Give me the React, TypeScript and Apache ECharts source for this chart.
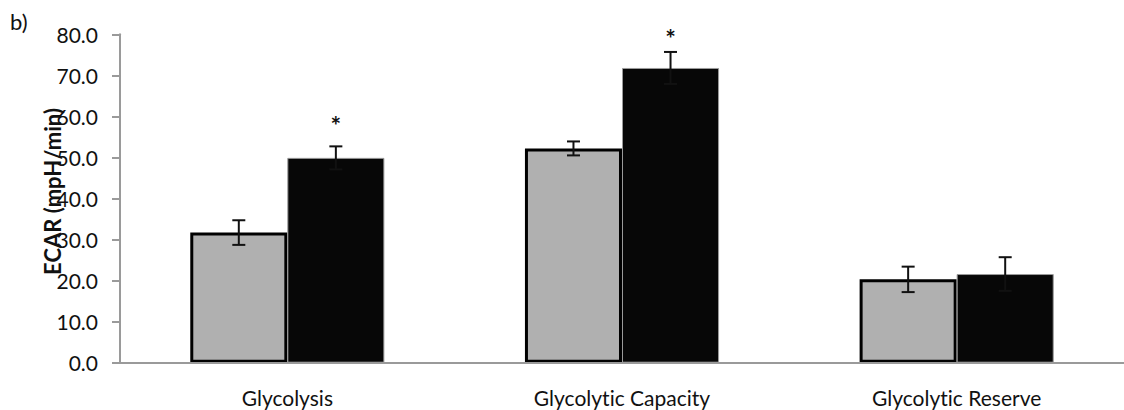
import React, { useEffect, useRef } from "react";
import * as echarts from "echarts";

const categories = ["Glycolysis", "Glycolytic Capacity", "Glycolytic Reserve"];
const controlMeans = [31.7, 52.2, 20.3];
const controlErr = [3.0, 1.7, 3.1];
const treatedMeans = [49.9, 71.8, 21.6];
const treatedErr = [2.8, 3.9, 4.1];
const significance = ["*", "*", ""];
const asteriskLevel = [58.0, 79.0, 0];
const yTicks = { min: 0, max: 80, interval: 10 };

const FONT = "Lato, 'Liberation Sans', sans-serif";
const CAT_GAP = 0.42;

function errorSeries(means: number[], errs: number[], sign: number) {
  return {
    type: "custom",
    z: 5,
    silent: true,
    encode: { x: 0, y: 1 },
    data: means.map((m, i) => [i, m, errs[i]]),
    renderItem: (params: any, api: any) => {
      const cat = api.value(0);
      const mean = api.value(1);
      const err = api.value(2);
      const band = api.size([1, 0])[0];
      const bw = (band * (1 - CAT_GAP)) / 2;
      const cx = api.coord([cat, 0])[0] + (sign * bw) / 2;
      const yTop = api.coord([cat, mean + err])[1];
      const yBot = api.coord([cat, mean - err])[1];
      const cap = 6.5;
      const st = { stroke: "#111", lineWidth: 2 };
      return {
        type: "group",
        children: [
          { type: "line", shape: { x1: cx, y1: yTop, x2: cx, y2: yBot }, style: st },
          { type: "line", shape: { x1: cx - cap, y1: yTop, x2: cx + cap, y2: yTop }, style: st },
          { type: "line", shape: { x1: cx - cap, y1: yBot, x2: cx + cap, y2: yBot }, style: st },
        ],
      };
    },
  };
}

export default function App() {
  const ref = useRef<HTMLDivElement>(null);
  useEffect(() => {
    if (!ref.current) return;
    const chart = echarts.init(ref.current, undefined, { renderer: "svg" });
    const option: any = {
      animation: false,
      backgroundColor: "#ffffff",
      textStyle: { fontFamily: FONT },
      grid: { left: 120, top: 34.3, width: 1008, height: 328.4, containLabel: false },
      xAxis: {
        type: "category",
        data: categories,
        z: 10,
        axisLine: { lineStyle: { color: "#9a9a9a", width: 2 } },
        axisTick: { show: false },
        axisLabel: { color: "#111", fontSize: 21, fontFamily: FONT, margin: 24 },
      },
      yAxis: {
        type: "value",
        min: yTicks.min,
        max: yTicks.max,
        interval: yTicks.interval,
        splitLine: { show: false },
        axisLine: { show: true, lineStyle: { color: "#9a9a9a", width: 2 } },
        axisTick: { show: true, inside: false, length: 8, lineStyle: { color: "#9a9a9a", width: 2 } },
        axisLabel: {
          color: "#111",
          fontSize: 21,
          fontFamily: FONT,
          margin: 22,
          formatter: (v: number) => v.toFixed(1),
        },
      },
      series: [
        {
          type: "bar",
          data: controlMeans,
          barGap: "0%",
          barCategoryGap: CAT_GAP * 100 + "%",
          itemStyle: { color: "#b0b0b0", borderColor: "#000", borderWidth: 3 },
          z: 2,
        },
        {
          type: "bar",
          data: treatedMeans,
          barGap: "0%",
          barCategoryGap: CAT_GAP * 100 + "%",
          itemStyle: { color: "#070707", borderColor: "#9a9a9a", borderWidth: 1 },
          z: 3,
        },
        errorSeries(controlMeans, controlErr, -1),
        errorSeries(treatedMeans, treatedErr, 1),
        {
          type: "custom",
          z: 6,
          silent: true,
          encode: { x: 0, y: 1 },
          data: significance
            .map((s, i) => [i, asteriskLevel[i], s])
            .filter((d) => d[2] !== ""),
          renderItem: (params: any, api: any) => {
            const cat = api.value(0);
            const lvl = api.value(1);
            const band = api.size([1, 0])[0];
            const bw = (band * (1 - CAT_GAP)) / 2;
            const p = api.coord([cat, lvl]);
            return {
              type: "text",
              x: p[0] + bw / 2,
              y: p[1],
              style: {
                text: "*",
                align: "center",
                verticalAlign: "middle",
                fill: "#111",
                font: "bold 25px " + FONT,
              },
            };
          },
        },
      ],
      graphic: [
        {
          type: "text",
          left: 10,
          top: 10,
          style: { text: "b)", fill: "#111", font: "22px " + FONT },
        },
        {
          type: "text",
          x: 52,
          y: 191.5,
          rotation: Math.PI / 2,
          style: {
            text: "ECAR (mpH/min)",
            align: "center",
            verticalAlign: "middle",
            fill: "#111",
            font: "bold 22px " + FONT,
          },
          z: 10,
        },
      ],
    };
    chart.setOption(option);
    return () => chart.dispose();
  }, []);
  return (
    <div
      ref={ref}
      style={{
        position: "fixed",
        left: 0,
        top: 0,
        width: 1124,
        height: 410,
        background: "#fff",
        fontVariantLigatures: "none",
        fontFeatureSettings: '"liga" 0, "clig" 0',
      }}
    />
  );
}
